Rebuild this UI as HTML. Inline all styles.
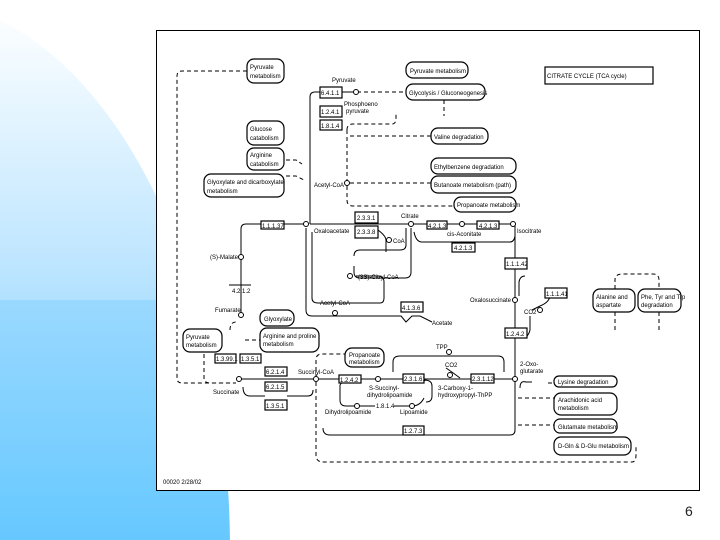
<!DOCTYPE html>
<html><head><meta charset="utf-8"><style>
html,body{margin:0;padding:0;width:720px;height:540px;overflow:hidden;background:#fff;font-family:"Liberation Sans",sans-serif}
#wrap{position:relative;width:720px;height:540px;overflow:hidden}
#bg{position:absolute;left:0;top:0;width:720px;height:540px;clip-path:ellipse(315px 550px at -85px 550px);background:linear-gradient(180deg,#ffffff 0px,#f2faff 60px,#bfe6ff 260px,#74ccff 480px,#66c8ff 540px)}
#bg2{position:absolute;left:0;top:300px;width:228px;height:240px;background:linear-gradient(180deg,#9ad9ff 0,#66c8ff 240px)}
#dg{position:absolute;left:156px;top:30px;width:544px;height:461px;background:#fff;border:1px solid #000;box-sizing:border-box}
#num{position:absolute;left:685px;top:503px;font-size:14px;line-height:16px;color:#222}
svg{display:block}
svg text{font-family:"Liberation Sans",sans-serif;font-size:6px}
</style></head><body><div id="wrap">
<div id="bg"></div><div id="bg2"></div>
<div id="dg"></div>
<div id="num">6</div>
<svg width="720" height="540" style="position:absolute;left:0;top:0" fill="none" stroke="#000" stroke-width="1">
<g stroke-dasharray="4,3">
<path d="M247,71 H182 Q177,71 177,76 V378 Q177,383 182,383 H236"/>
<path d="M316,382 V455 Q316,462 323,462 H632 Q636,462 636,455 V445"/>
<path d="M350,92 H406"/>
<path d="M347,130 V200 Q347,206 353,206 H454"/>
<path d="M347,130 Q347,124 353,124 H392 Q396,124 396,118 V112"/>
<path d="M350,136 H431"/>
<path d="M350,183 H431"/>
<path d="M444,100 V116"/>
<path d="M316,378 V360 Q316,354 322,354 H345"/>
<path d="M204,340 V378 Q204,383 210,383 H236"/>
<path d="M230,330 Q230,322 236,322"/>
<path d="M245,340 H260"/>
<path d="M518,425 H554"/><path d="M518,398 H554"/><path d="M548,383 H554"/>
<path d="M615,296 V280 Q615,274 622,274 H653 Q659,274 659,280 V289"/>
<path d="M615,312 V330"/><path d="M659,312 V330"/>
<path d="M286,176 H296 L304,180"/><path d="M286,160 H296 L302,164"/>
</g>
<path d="M310,224 H513"/>
<path d="M310,224 V97 Q310,92 315,92 H320"/>
<path d="M342,92 H352"/>
<path d="M241,229 Q241,224 246,224 H261 M284,224 H306"/>
<path d="M241,229 V315"/>
<path d="M229,285 H251"/>
<path d="M239,379 H316"/>
<path d="M319,379 H515"/>
<path d="M515,224 V379 V430 Q515,435 510,435 H424 M403,435 H330 Q323,435 323,428"/>
<path d="M306,228 V310 Q306,316 312,316 H401 L406,322 L412,316 H420 L432,322"/>
<path d="M312,232 V298 Q312,303 318,303 H380 Q384,303 384,298 V282 Q384,276 378,276 H356"/>
<path d="M411,228 V272 Q411,278 405,278 H360 Q354,278 354,272 V266"/>
<path d="M406,228 V245 Q406,250 400,250 H360 Q354,250 354,256"/>
<path d="M378,230 Q386,236 386,240 V252"/>
<path d="M414,232 Q416,242 422,242 H510 Q514,242 515,236"/>
<path d="M525,276 Q520,276 519,282 V296"/>
<path d="M550,295 Q550,302 540,306 L532,310"/>
<path d="M513,330 Q513,338 522,338 Q528,338 530,330 V316"/>
<path d="M520,388 Q520,380 526,382 H532"/>
<path d="M243,387 Q243,396 250,396 H265 M287,396 H308 Q313,396 313,390"/>
<path d="M360,379 Q342,380 340,385 V400 Q340,406 346,406 H375 M394,406 H412 Q420,406 424,398"/>
<path d="M393,372 V362 Q393,356 400,356 H498 Q504,356 504,362 V372"/>
<path d="M424,380 Q432,380 432,386 V396 Q432,402 426,402"/>
<path d="M446,368 Q452,372 460,378"/>
<g stroke-width="1.2" fill="#fff">
<rect x="545" y="67" width="108" height="17"/>
<rect x="320" y="87" width="22" height="11"/>
<rect x="320" y="106" width="22" height="11"/>
<rect x="320" y="120" width="22" height="10"/>
<rect x="355" y="212" width="23" height="11"/>
<rect x="355" y="226" width="23" height="12"/>
<rect x="427" y="221" width="20" height="8"/>
<rect x="477" y="221" width="22" height="8"/>
<rect x="452" y="243" width="23" height="9"/>
<rect x="261" y="221" width="23" height="8"/>
<rect x="505" y="258" width="22" height="11"/>
<rect x="545" y="288" width="22" height="10"/>
<rect x="505" y="328" width="22" height="10"/>
<rect x="401" y="302" width="22" height="10"/>
<rect x="265" y="367" width="22" height="9"/>
<rect x="265" y="382" width="22" height="9"/>
<rect x="265" y="400" width="22" height="10"/>
<rect x="215" y="354" width="21" height="9"/>
<rect x="240" y="354" width="21" height="9"/>
<rect x="339" y="375" width="22" height="8"/>
<rect x="403" y="374" width="21" height="9"/>
<rect x="471" y="374" width="23" height="9"/>
<rect x="403" y="426" width="21" height="9"/>
<rect x="247" y="59" width="37" height="24" rx="7"/>
<rect x="406" y="62" width="62" height="16" rx="7"/>
<rect x="406" y="84" width="79" height="16" rx="7"/>
<rect x="431" y="128" width="57" height="16" rx="7"/>
<rect x="431" y="158" width="85" height="16" rx="7"/>
<rect x="431" y="176" width="85" height="17" rx="7"/>
<rect x="454" y="197" width="62" height="15" rx="7"/>
<rect x="247" y="121" width="37" height="24" rx="7"/>
<rect x="247" y="148" width="37" height="22" rx="7"/>
<rect x="204" y="174" width="80" height="23" rx="7"/>
<rect x="554" y="376" width="63" height="11" rx="5"/>
<rect x="554" y="393" width="63" height="22" rx="7"/>
<rect x="554" y="419" width="63" height="14" rx="6"/>
<rect x="554" y="437" width="77" height="18" rx="7"/>
<rect x="593" y="289" width="42" height="23" rx="7"/>
<rect x="638" y="289" width="43" height="23" rx="7"/>
<rect x="183" y="329" width="39" height="23" rx="7"/>
<rect x="260" y="310" width="34" height="16" rx="7"/>
<rect x="260" y="328" width="59" height="24" rx="7"/>
<rect x="345" y="348" width="39" height="19" rx="7"/>
</g>
<g fill="#fff">
<circle cx="306" cy="224" r="2.5"/><circle cx="411" cy="224" r="2.5"/><circle cx="462" cy="224" r="2.5"/><circle cx="513" cy="224" r="2.5"/>
<circle cx="241" cy="257" r="2.5"/><circle cx="241" cy="315" r="2.5"/><circle cx="347" cy="183" r="2.5"/><circle cx="356" cy="92" r="2.5"/>
<circle cx="239" cy="379" r="2.5"/><circle cx="316" cy="379" r="2.5"/><circle cx="515" cy="379" r="2.5"/><circle cx="515" cy="300" r="2.5"/>
<circle cx="389" cy="240" r="2.5"/><circle cx="350" cy="276" r="2.5"/><circle cx="335" cy="313" r="2.5"/><circle cx="378" cy="379" r="2.5"/>
<circle cx="449" cy="352" r="2.5"/><circle cx="450" cy="375" r="2.5"/><circle cx="540" cy="310" r="2.5"/><circle cx="357" cy="406" r="2.5"/><circle cx="412" cy="406" r="2.5"/>
</g>
</svg>
<svg width="720" height="540" style="position:absolute;left:0;top:0" fill="#000">
<text x="547" y="78">CITRATE CYCLE (TCA cycle)</text>
<text x="250" y="69">Pyruvate</text><text x="250" y="78">metabolism</text>
<text x="410" y="73">Pyruvate metabolism</text>
<text x="409" y="95">Glycolysis / Gluconeogenesis</text>
<text x="434" y="139">Valine degradation</text>
<text x="434" y="169">Ethylbenzene degradation</text>
<text x="434" y="187">Butanoate metabolism (path)</text>
<text x="457" y="207">Propanoate metabolism</text>
<text x="250" y="131">Glucose</text><text x="250" y="140">catabolism</text>
<text x="250" y="157">Arginine</text><text x="250" y="166">catabolism</text>
<text x="207" y="184">Glyoxylate and dicarboxylate</text><text x="207" y="193">metabolism</text>
<text x="321" y="95">6.4.1.1</text><text x="321" y="114">1.2.4.1</text><text x="321" y="128">1.8.1.4</text>
<text x="332" y="82">Pyruvate</text><text x="344" y="106">Phosphoeno</text><text x="346" y="113">pyruvate</text>
<text x="314" y="187">Acetyl-CoA</text>
<text x="357" y="220">2.3.3.1</text><text x="357" y="234">2.3.3.8</text>
<text x="401" y="218">Citrate</text>
<text x="428" y="228">4.2.1.3</text><text x="479" y="228">4.2.1.3</text><text x="454" y="250">4.2.1.3</text>
<text x="447" y="236">cis-Aconitate</text><text x="517" y="233">Isocitrate</text>
<text x="262" y="228">1.1.1.37</text><text x="314" y="233">Oxaloacetate</text>
<text x="210" y="259">(S)-Malate</text><text x="232" y="293">4.2.1.2</text><text x="215" y="312">Fumarate</text>
<text x="393" y="243">CoA</text><text x="358" y="279">(3S)-Citryl-CoA</text><text x="320" y="305">Acetyl-CoA</text>
<text x="402" y="310">4.1.3.6</text><text x="432" y="325">Acetate</text>
<text x="506" y="266">1.1.1.42</text><text x="470" y="302">Oxalosuccinate</text>
<text x="546" y="296">1.1.1.41</text><text x="524" y="314">CO2</text><text x="506" y="336">1.2.4.2</text>
<text x="596" y="299">Alanine and</text><text x="596" y="307">aspartate</text>
<text x="641" y="299">Phe, Tyr and Trp</text><text x="641" y="307">degradation</text>
<text x="186" y="339">Pyruvate</text><text x="186" y="347">metabolism</text>
<text x="264" y="321">Glyoxylate</text><text x="263" y="338">Arginine and proline</text><text x="263" y="346">metabolism</text>
<text x="216" y="361">1.3.99.1</text><text x="241" y="361">1.3.5.1</text>
<text x="266" y="374">6.2.1.4</text><text x="266" y="389">6.2.1.5</text><text x="266" y="408">1.3.5.1</text>
<text x="213" y="394">Succinate</text><text x="298" y="374">Succinyl-CoA</text>
<text x="349" y="357">Propanoate</text><text x="349" y="364">metabolism</text>
<text x="340" y="382">1.2.4.2</text><text x="404" y="381">2.3.1.61</text><text x="472" y="381">2.3.1.12</text>
<text x="436" y="349">TPP</text><text x="445" y="367">CO2</text>
<text x="369" y="390">S-Succinyl-</text><text x="367" y="397">dihydrolipoamide</text>
<text x="438" y="390">3-Carboxy-1-</text><text x="438" y="397">hydroxypropyl-ThPP</text>
<text x="376" y="408">1.8.1.4</text><text x="325" y="414">Dihydrolipoamide</text><text x="400" y="414">Lipoamide</text>
<text x="404" y="433">1.2.7.3</text>
<text x="520" y="366">2-Oxo-</text><text x="520" y="373">glutarate</text>
<text x="558" y="384">Lysine degradation</text>
<text x="558" y="402">Arachidonic acid</text><text x="558" y="410">metabolism</text>
<text x="558" y="429">Glutamate metabolism</text>
<text x="558" y="448">D-Gln &amp; D-Glu metabolism</text>
<text x="163" y="484">00020 2/28/02</text>
</svg>
</div></body></html>
